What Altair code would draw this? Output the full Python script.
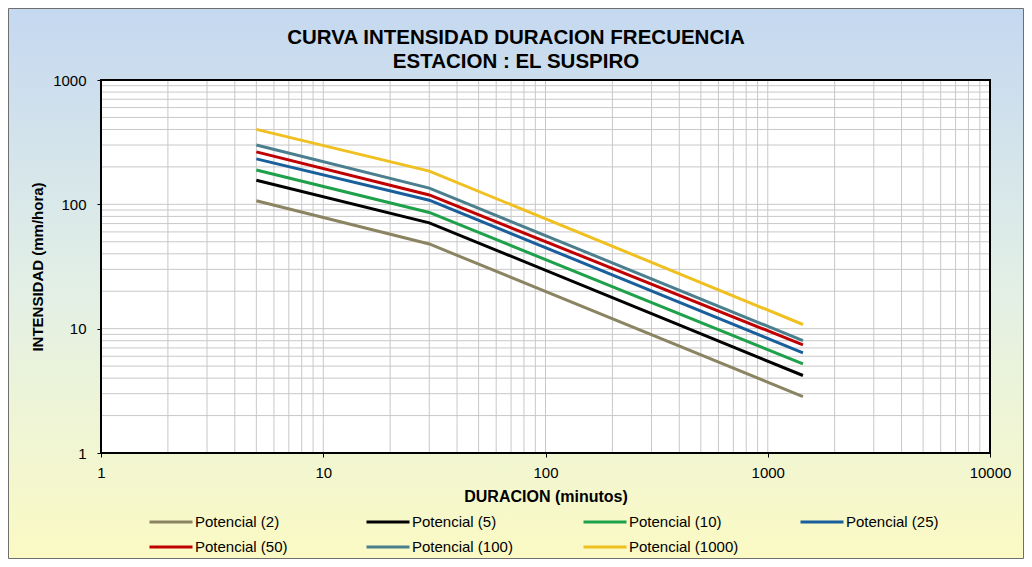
import altair as alt
import pandas as pd

# ---- data ----
durations = [5, 30, 1440]
series_names = ["Potencial (2)", "Potencial (5)", "Potencial (10)", "Potencial (25)",
                "Potencial (50)", "Potencial (100)", "Potencial (1000)"]
i_2 = [107, 48, 2.84]
i_5 = [156, 71, 4.2]
i_10 = [189, 86, 5.2]
i_25 = [232, 108, 6.4]
i_50 = [264, 119, 7.4]
i_100 = [300, 135, 8.0]
i_1000 = [401, 185, 10.8]
series_colors = ["#8B8462", "#000000", "#1FA04B", "#185F9C", "#C00000", "#4B7F8E", "#F0C020"]

x_ticks = [1, 10, 100, 1000, 10000]
y_ticks = [1, 10, 100, 1000]
x_grid = [m * 10 ** k for k in range(4) for m in range(1, 10)] + [10000]
y_grid = [m * 10 ** k for k in range(3) for m in range(1, 10)] + [1000]

title_lines = ["CURVA INTENSIDAD DURACION FRECUENCIA", "ESTACION : EL SUSPIRO"]

rows = []
for name, vals in zip(series_names, [i_2, i_5, i_10, i_25, i_50, i_100, i_1000]):
    for d, v in zip(durations, vals):
        rows.append({"serie": name, "duracion": d, "intensidad": v})
df = pd.DataFrame(rows)
xg_df = pd.DataFrame({"v": x_grid})
yg_df = pd.DataFrame({"v": y_grid})
one = pd.DataFrame({"a": [0]})
title_df = pd.DataFrame({"t": ["\n".join(title_lines)]})

W, H = 889, 373
PAD_L, PAD_T, PAD_R, PAD_B = 93, 72, 34, 106
FONT = "Arial, 'Liberation Sans', sans-serif"

xscale = alt.Scale(type="log", domain=[1, 10000], nice=False)
yscale = alt.Scale(type="log", domain=[1, 1000], nice=False)
xaxis = alt.Axis(values=x_ticks, format="d", grid=False, domain=False, tickSize=4,
                 tickColor="#000000", labelFontSize=15, labelPadding=8, labelColor="#000000",
                 labelFlush=False, title="DURACION (minutos)", titleFontSize=16,
                 titleFontWeight="bold", titlePadding=8, titleColor="#000000", zindex=2)
yaxis = alt.Axis(values=y_ticks, format="d", grid=False, domain=False, tickSize=4,
                 tickColor="#000000", labelFontSize=15, labelPadding=11, labelColor="#000000",
                 labelFlush=False, title="INTENSIDAD (mm/hora)", titleFontSize=15,
                 titleFontWeight="bold", titlePadding=7, titleColor="#000000", zindex=2)

gradient = alt.LinearGradient(
    gradient="linear", x1=0, x2=0, y1=0, y2=1,
    stops=[alt.GradientStop(color="#C4D8F0", offset=0),
           alt.GradientStop(color="#E2EFE6", offset=0.5),
           alt.GradientStop(color="#FBFAC4", offset=1)])

bg = alt.Chart(one).mark_rect(fill=gradient, stroke="#6f6f6f", strokeWidth=1).encode(
    x=alt.value(-PAD_L + 0.5), x2=alt.value(W + PAD_R - 0.5),
    y=alt.value(-PAD_T + 0.5), y2=alt.value(H + PAD_B - 0.5))

title = alt.Chart(title_df).mark_text(
    fontSize=20.5, fontWeight="bold", lineBreak="\n", lineHeight=24, align="center",
    baseline="alphabetic", color="#000000", font=FONT).encode(
    text="t:N", x=alt.value(516 - 101), y=alt.value(44.3 - 80))

plotbg = alt.Chart(one).mark_rect(fill="white").encode(
    x=alt.value(0), x2=alt.value(W), y=alt.value(0), y2=alt.value(H))

xgrid = alt.Chart(xg_df).mark_rule(color="#C8C8C8", strokeWidth=1).encode(
    x=alt.X("v:Q", scale=xscale, axis=xaxis), y=alt.value(0), y2=alt.value(H))
ygrid = alt.Chart(yg_df).mark_rule(color="#C8C8C8", strokeWidth=1).encode(
    y=alt.Y("v:Q", scale=yscale, axis=yaxis), x=alt.value(0), x2=alt.value(W))

lines = alt.Chart(df).mark_line(strokeWidth=3).encode(
    x=alt.X("duracion:Q", scale=xscale, axis=xaxis),
    y=alt.Y("intensidad:Q", scale=yscale, axis=yaxis),
    color=alt.Color("serie:N", sort=series_names,
                    scale=alt.Scale(domain=series_names, range=series_colors),
                    legend=alt.Legend(title=None, orient="none", legendX=61, legendY=433,
                                      direction="horizontal",
                                      columns=4, symbolType="M-2.867,0H2.867", symbolSize=225,
                                      symbolStrokeWidth=3, labelFontSize=15, labelColor="#000000",
                                      columnPadding=55, rowPadding=8, gridAlign="all",
                                      labelOffset=15, zindex=2)),
)

border = alt.Chart(one).mark_rect(fillOpacity=0, stroke="#000000", strokeWidth=2).encode(
    x=alt.value(0), x2=alt.value(W), y=alt.value(0), y2=alt.value(H))

chart = alt.layer(bg, title, plotbg, xgrid, ygrid, lines, border).properties(
    width=W, height=H,
    padding={"left": PAD_L, "top": PAD_T, "right": PAD_R, "bottom": PAD_B},
    autosize=alt.AutoSizeParams(type="none"),
).configure(font=FONT).configure_view(strokeWidth=0)

chart.save("out.html", embed_options={"renderer": "svg", "actions": False})
